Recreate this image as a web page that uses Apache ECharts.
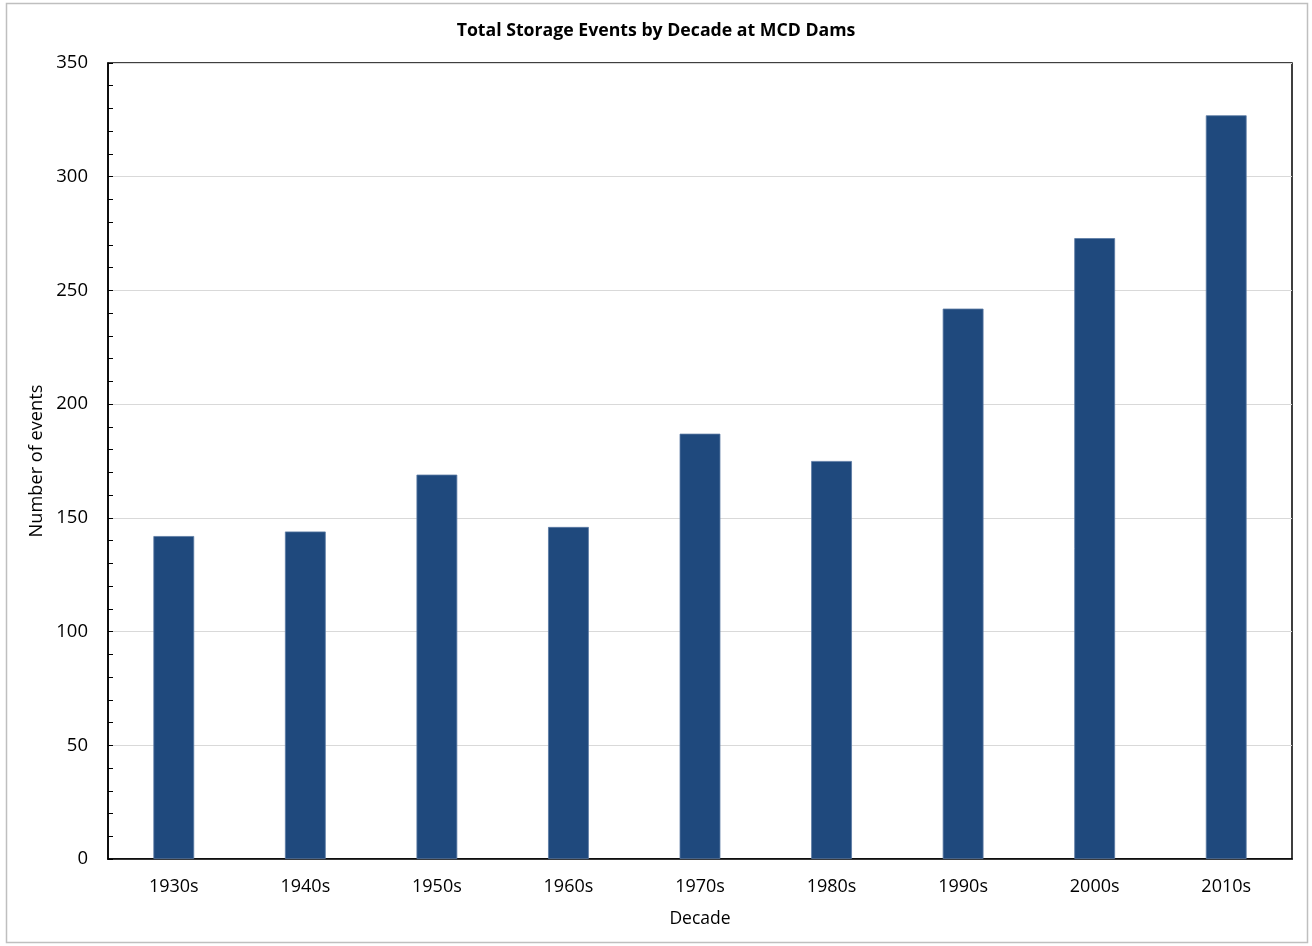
<!DOCTYPE html>
<html>
<head>
<meta charset="utf-8">
<script src="https://cdn.jsdelivr.net/npm/echarts@6/dist/echarts.min.js"></script>
<style>
  html, body { margin: 0; padding: 0; background: #fff; }
  #chart { width: 1312px; height: 946px; }
</style>
</head>
<body>
<div id="chart"></div>
<script>
// Storage events counted per decade
const decades = ['1930s', '1940s', '1950s', '1960s', '1970s', '1980s', '1990s', '2000s', '2010s'];
const eventCounts = [142, 144, 169, 146, 187, 175, 242, 273, 327];

const chart = echarts.init(document.getElementById('chart'), null, { renderer: 'canvas' });
const FONT = '"Open Sans", "Noto Sans", sans-serif';

chart.setOption({
  animation: false,
  backgroundColor: '#fff',
  title: {
    text: 'Total Storage Events by Decade at MCD Dams',
    left: 'center',
    top: 17,
    textStyle: { fontFamily: FONT, fontSize: 17.7, fontWeight: 'bold', color: '#000' }
  },
  graphic: [{
    type: 'rect',
    shape: { x: 6.5, y: 3.5, width: 1301, height: 939 },
    style: { fill: 'none', stroke: '#bfbfbf', lineWidth: 1.5 },
    silent: true
  }],
  grid: {
    left: 108, right: 20, top: 63, bottom: 87,
    show: true, borderColor: '#000', borderWidth: 1.5, backgroundColor: 'transparent'
  },
  xAxis: {
    type: 'category',
    data: decades,
    name: 'Decade',
    nameLocation: 'middle',
    nameGap: 51,
    nameTextStyle: { fontFamily: FONT, fontSize: 17.5, color: '#000' },
    axisLine: { show: true, lineStyle: { color: '#000', width: 1.5 } },
    axisTick: { show: false },
    axisLabel: { fontFamily: FONT, fontSize: 18, color: '#000', margin: 19 },
    splitLine: { show: false }
  },
  yAxis: {
    type: 'value',
    min: 0, max: 350, interval: 50,
    name: 'Number of events',
    nameLocation: 'middle',
    nameGap: 55,
    nameRotate: 90,
    nameTextStyle: { fontFamily: FONT, fontSize: 18.2, color: '#000' },
    axisLine: { show: true, lineStyle: { color: '#000', width: 1.5 } },
    axisTick: { show: true, inside: true, length: 5, lineStyle: { color: '#000', width: 1 } },
    minorTick: { show: true, splitNumber: 5, length: 5, lineStyle: { color: '#000', width: 1 } },
    axisLabel: { fontFamily: FONT, fontSize: 18.5, color: '#000', margin: 20 },
    splitLine: { show: true, lineStyle: { color: '#d9d9d9', width: 1 } }
  },
  series: [{
    type: 'bar',
    data: eventCounts,
    barWidth: '31%',
    itemStyle: { color: '#1f497d', borderColor: '#5a7aa3', borderWidth: 0.8 }
  }]
});
</script>
</body>
</html>
